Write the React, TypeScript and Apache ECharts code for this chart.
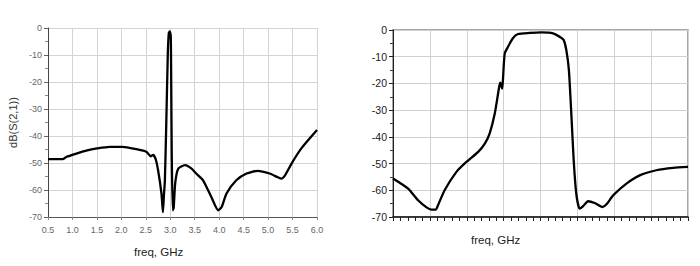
import React, { useEffect, useRef } from "react";
import * as echarts from "echarts";

// Left chart: dB(S(2,1)) vs freq (GHz)
const leftFreq = [0.5, 0.8, 0.88, 1.08, 1.3, 1.5, 1.76, 2.03, 2.31, 2.51, 2.6, 2.65, 2.7, 2.75, 2.82, 2.85, 2.87, 2.89, 2.92, 2.95, 2.97, 2.99, 3.01, 3.02, 3.03, 3.05, 3.07, 3.1, 3.16, 3.3, 3.43, 3.53, 3.67, 3.84, 3.98, 4.05, 4.15, 4.35, 4.56, 4.79, 5.03, 5.2, 5.27, 5.34, 5.48, 5.68, 6.0];
const leftDb = [-48.6, -48.6, -47.7, -46.5, -45.3, -44.6, -44.0, -44.0, -44.9, -45.8, -47.5, -47.0, -48.5, -52.6, -61.3, -68.2, -62.0, -56.4, -34.0, -9.3, -1.9, -1.3, -3.1, -21.7, -46.4, -67.5, -66.5, -57.6, -52.2, -50.8, -52.0, -53.9, -56.4, -62.6, -67.5, -66.3, -61.3, -56.4, -53.9, -52.9, -53.9, -55.3, -55.8, -54.8, -50.2, -44.6, -37.8];

// Right chart: response vs normalized frequency divisions
const rightX = [0, 0.41, 0.68, 0.9, 1.04, 1.16, 1.22, 1.4, 1.72, 1.99, 2.31, 2.49, 2.62, 2.76, 2.88, 2.91, 2.94, 2.96, 2.98, 3.03, 3.12, 3.25, 3.39, 3.71, 4.02, 4.34, 4.55, 4.63, 4.7, 4.77, 4.84, 4.9, 4.97, 5.06, 5.15, 5.29, 5.47, 5.68, 5.79, 5.97, 6.33, 6.69, 7.14, 7.6, 8.0];
const rightDb = [-55.6, -59.4, -63.75, -66.3, -67.25, -67.25, -65.6, -60, -53.1, -49.4, -45.6, -42.5, -38.75, -31.25, -21.25, -19.75, -21.0, -21.9, -19.0, -8.75, -6.25, -3.1, -1.5, -1.1, -0.9, -1.25, -2.8, -3.75, -7.5, -15, -32.5, -48.75, -61.25, -66.9, -66.0, -64.1, -64.75, -66.25, -65.25, -61.9, -57.5, -54.4, -52.5, -51.6, -51.25];

const yTicks = [0, -10, -20, -30, -40, -50, -60, -70];

const FONT = "Liberation Sans, Arial, sans-serif";

export default function App() {
  const ref = useRef<HTMLDivElement>(null);
  useEffect(() => {
    if (!ref.current) return;
    const chart = echarts.init(ref.current, null, { renderer: "svg" });
    const leftData = leftFreq.map((f, i) => [f, leftDb[i]]);
    const rightData = rightX.map((f, i) => [f, rightDb[i]]);
    chart.setOption({
      animation: false,
      backgroundColor: "#ffffff",
      textStyle: { fontFamily: FONT },
      grid: [
        { left: 48, top: 28, width: 269, height: 189, containLabel: false },
        {
          left: 393, top: 30, width: 295, height: 187, containLabel: false,
          show: true, borderColor: "#8a8a8a", borderWidth: 1.5, backgroundColor: "transparent",
        },
      ],
      xAxis: [
        {
          gridIndex: 0,
          type: "value",
          min: 0.5,
          max: 6.0,
          interval: 0.5,
          axisLine: { show: true, onZero: false, lineStyle: { color: "#555", width: 1 } },
          axisTick: { show: true, length: 3, lineStyle: { color: "#888" } },
          axisLabel: {
            color: "#666",
            fontSize: 9,
            margin: 8,
            fontFamily: FONT,
            formatter: (v: number) => v.toFixed(1),
          },
          splitLine: { show: true, lineStyle: { color: "#d4d4d4", width: 1 } },
        },
        {
          gridIndex: 1,
          type: "value",
          min: 0,
          max: 8,
          interval: 1,
          axisLine: { show: true, onZero: false, lineStyle: { color: "#111", width: 1.5 } },
          axisTick: { show: true, length: 4, lineStyle: { color: "#222" } },
          minorTick: { show: true, splitNumber: 5, length: 4, lineStyle: { color: "#222" } },
          axisLabel: { show: false },
          splitLine: { show: true, lineStyle: { color: "#d0d0d0", width: 1 } },
        },
      ],
      yAxis: [
        {
          gridIndex: 0,
          type: "value",
          min: -70,
          max: 0,
          interval: 10,
          name: "dB(S(2,1))",
          nameLocation: "middle",
          nameGap: 30,
          nameTextStyle: { color: "#333", fontSize: 11, fontFamily: FONT },
          axisLine: { show: true, onZero: false, lineStyle: { color: "#444", width: 1 } },
          axisTick: { show: true, length: 4, lineStyle: { color: "#666" } },
          minorTick: { show: true, splitNumber: 2, length: 3, lineStyle: { color: "#888" } },
          axisLabel: {
            color: "#666",
            fontSize: 9,
            margin: 6,
            fontFamily: FONT,
            formatter: (v: number) => (yTicks.includes(v) ? String(v) : ""),
          },
          splitLine: { show: true, lineStyle: { color: "#d4d4d4", width: 1 } },
        },
        {
          gridIndex: 1,
          type: "value",
          min: -70,
          max: 0,
          interval: 10,
          axisLine: { show: true, onZero: false, lineStyle: { color: "#222", width: 1 } },
          axisTick: { show: true, length: 4, lineStyle: { color: "#222" } },
          minorTick: { show: true, splitNumber: 2, length: 3, lineStyle: { color: "#444" } },
          axisLabel: {
            color: "#1a1a1a",
            fontSize: 10.5,
            margin: 6,
            fontFamily: FONT,
            formatter: (v: number) => (yTicks.includes(v) ? String(v) : ""),
          },
          splitLine: { show: true, lineStyle: { color: "#d0d0d0", width: 1 } },
        },
      ],
      graphic: [
        {
          type: "text",
          left: 134,
          top: 246,
          style: { text: "freq, GHz", fill: "#222", fontSize: 11.5, fontFamily: FONT },
        },
        {
          type: "text",
          left: 471,
          top: 234,
          style: { text: "freq, GHz", fill: "#222", fontSize: 11.5, fontFamily: FONT },
        },
      ],
      series: [
        {
          type: "line",
          xAxisIndex: 0,
          yAxisIndex: 0,
          data: leftData,
          showSymbol: false,
          smooth: 0.2,
          lineStyle: { color: "#000", width: 2.3 },
        },
        {
          type: "line",
          xAxisIndex: 1,
          yAxisIndex: 1,
          data: rightData,
          showSymbol: false,
          smooth: 0.2,
          lineStyle: { color: "#000", width: 2.3 },
        },
      ],
    });
    return () => chart.dispose();
  }, []);
  return (
    <div
      ref={ref}
      style={{ position: "fixed", left: 0, top: 0, width: 700, height: 266 }}
    />
  );
}
